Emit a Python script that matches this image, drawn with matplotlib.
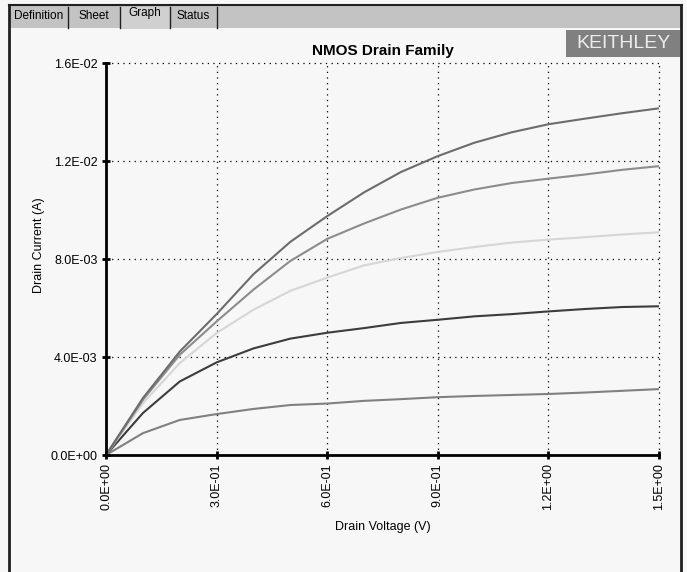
import numpy as np
import matplotlib
matplotlib.use('Agg')
import matplotlib.pyplot as plt
from matplotlib.patches import Rectangle
from matplotlib.lines import Line2D

plt.rcParams['font.family'] = ['Liberation Sans', 'DejaVu Sans']

# drain voltage sweep (V)
vd = [0.0, 0.1, 0.2, 0.3, 0.4, 0.5, 0.6, 0.7, 0.8, 0.9, 1.0, 1.1, 1.2, 1.3, 1.4, 1.5]

# drain current for each gate step (A, in 1e-3 units below)
id_step1 = [0.0, 2.32, 4.22, 5.75, 7.38, 8.70, 9.75, 10.72, 11.55, 12.20, 12.75, 13.17, 13.50, 13.73, 13.95, 14.15]
id_step2 = [0.0, 2.25, 4.09, 5.45, 6.75, 7.92, 8.82, 9.45, 10.02, 10.50, 10.84, 11.10, 11.28, 11.45, 11.64, 11.79]
id_step3 = [0.0, 2.11, 3.75, 4.98, 5.93, 6.70, 7.24, 7.74, 8.04, 8.29, 8.49, 8.67, 8.79, 8.89, 9.00, 9.09]
id_step4 = [0.0, 1.71, 3.00, 3.78, 4.35, 4.75, 4.99, 5.18, 5.39, 5.52, 5.66, 5.75, 5.86, 5.96, 6.04, 6.07]
id_step5 = [0.0, 0.89, 1.43, 1.67, 1.88, 2.04, 2.10, 2.21, 2.28, 2.36, 2.41, 2.45, 2.49, 2.55, 2.62, 2.69]

curves = [id_step5, id_step4, id_step3, id_step2, id_step1]
colors = ['#808080', '#3c3c3c', '#d6d6d6', '#8c8c8c', '#6c6c6c']

x_ticks = [0.0, 0.3, 0.6, 0.9, 1.2, 1.5]
x_labels = ['0.0E+00', '3.0E-01', '6.0E-01', '9.0E-01', '1.2E+00', '1.5E+00']
y_ticks = [0.0, 0.004, 0.008, 0.012, 0.016]
y_labels = ['0.0E+00', '4.0E-03', '8.0E-03', '1.2E-02', '1.6E-02']

tabs = ['Definition', 'Sheet', 'Graph', 'Status']

W, H = 687, 572
fig = plt.figure(figsize=(W / 100, H / 100), dpi=100)
fig.patch.set_facecolor('#f7f7f7')


def px_rect(x0, y0, x1, y1, **kw):
    # rectangle in pixel coords (top-left origin)
    r = Rectangle((x0 / W, 1 - y1 / H), (x1 - x0) / W, (y1 - y0) / H,
                  transform=fig.transFigure, zorder=-5, **kw)
    fig.add_artist(r)


def px_line(x0, y0, x1, y1, **kw):
    fig.add_artist(Line2D([x0 / W, x1 / W], [1 - y0 / H, 1 - y1 / H],
                          transform=fig.transFigure, zorder=-4, **kw))


# window chrome: tab bar and frame
px_rect(9, 5, 682, 28, facecolor='#c3c3c3', edgecolor='none')
px_line(9, 5, 682, 5, color='#202020', lw=1.5)
px_line(9, 5, 9, H, color='#202020', lw=2)
px_line(681, 5, 681, H, color='#202020', lw=2)
px_rect(121, 7, 170, 29, facecolor='#d0d0d0', edgecolor='none')

tab_edges = [10, 68, 120, 170, 217]
for i, name in enumerate(tabs):
    cx = (tab_edges[i] + tab_edges[i + 1]) / 2
    cy = 13 if name == 'Graph' else 16
    fig.text(cx / W, 1 - cy / H, name, ha='center', va='center', fontsize=8.5)
    px_line(tab_edges[i + 1], 7, tab_edges[i + 1], 28, color='#202020', lw=1)

# logo box
px_rect(566, 30, 680, 57, facecolor='#808080', edgecolor='none')
fig.text(623 / W, 1 - 44 / H, 'KEITHLEY', ha='center', va='center',
         fontsize=14, color='#ececec', fontweight='light')

ax = fig.add_axes([106 / W, 1 - 455 / H, 553 / W, 392 / H])
ax.set_facecolor('none')

for ys, c in zip(curves, colors):
    ax.plot(vd, np.array(ys) * 1e-3, color=c, lw=1.5, solid_joinstyle='round')

ax.set_xlim(0, 1.5)
ax.set_ylim(0, 0.016)
ax.set_xticks(x_ticks)
ax.set_xticklabels(x_labels, rotation=90, fontsize=9)
ax.set_yticks(y_ticks)
ax.set_yticklabels(y_labels, fontsize=9)
ax.tick_params(direction='inout', length=6, width=2, color='black', pad=3)

ax.spines['top'].set_visible(False)
ax.spines['right'].set_visible(False)
ax.spines['left'].set_linewidth(2)
ax.spines['bottom'].set_linewidth(2)

ax.grid(True, color='black', linestyle=(0, (1, 3.5)), linewidth=0.9)
for gl in ax.get_xgridlines() + ax.get_ygridlines():
    gl.set_clip_on(False)
ax.set_axisbelow(True)

ax.set_title('NMOS Drain Family', fontsize=11, fontweight='bold', pad=6)
ax.set_xlabel('Drain Voltage (V)', fontsize=9, labelpad=8)
ax.set_ylabel('Drain Current (A)', fontsize=9)
ax.yaxis.set_label_coords(-0.11, 0.535)

fig.savefig('out.png', dpi=100, facecolor=fig.get_facecolor())
